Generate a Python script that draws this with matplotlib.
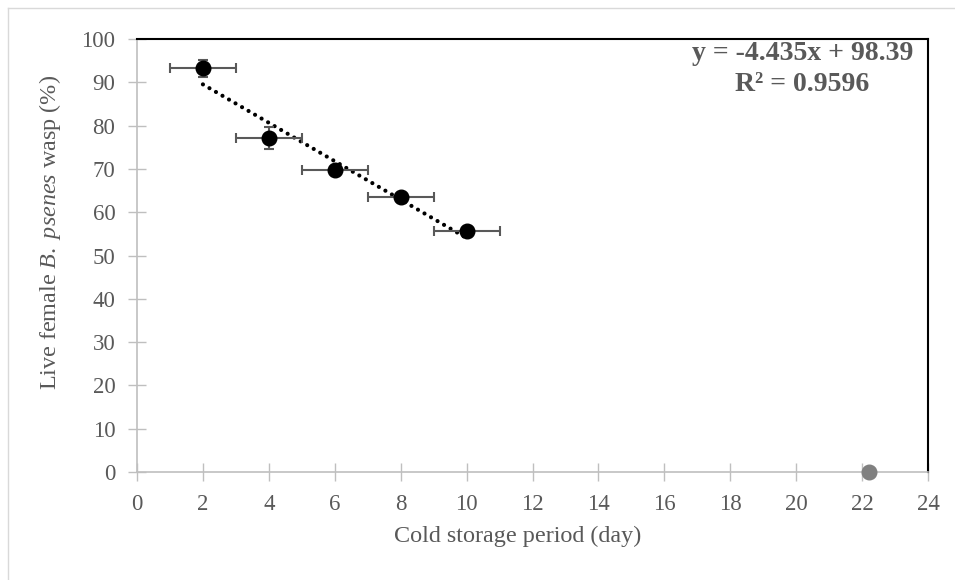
import numpy as np
import matplotlib.pyplot as plt
from matplotlib.lines import Line2D

# data
days = np.array([2, 4, 6, 8, 10])
live = np.array([93.2, 77.1, 69.8, 63.6, 55.6])
live_err = np.array([1.9, 2.6, 0.8, 0.6, 0.6])
days_err = np.array([1, 1, 1, 1, 1])
slope, intercept = -4.435, 98.39
extra_x, extra_y = [22.2], [0]

plt.rcParams['font.family'] = ['Liberation Serif', 'DejaVu Serif']
plt.rcParams['mathtext.fontset'] = 'custom'
plt.rcParams['mathtext.rm'] = 'Liberation Serif'
plt.rcParams['mathtext.it'] = 'Liberation Serif:italic'
grey_txt = '#595959'
grey_ax = '#bfbfbf'

fig = plt.figure(figsize=(9.55, 5.8), dpi=100)
ax = fig.add_axes([137/955, 1 - 472/580, (928-137)/955, (472-39)/580])

# outer chart border (left/top only visible)
fig.add_artist(Line2D([8/955, 8/955], [0, 1 - 8/580], color='#d9d9d9', lw=1))
fig.add_artist(Line2D([8/955, 1], [1 - 8/580, 1 - 8/580], color='#d9d9d9', lw=1))

ax.errorbar(days, live, yerr=live_err, xerr=days_err, fmt='o', color='black',
            ecolor='#595959', elinewidth=1.5, capsize=3.3, capthick=1.5,
            markersize=10.5, zorder=3)
xt = np.array([days.min(), days.max()])
ax.plot(xt, slope * xt + intercept, color='black', ls=(0, (0.01, 1.8)), lw=3,
        dash_capstyle='round', zorder=2)
ax.plot(extra_x, extra_y, 'o', color='#808080', markersize=10.5, clip_on=False, zorder=4)

ax.set_xlim(0, 24)
ax.set_ylim(0, 100)
ax.set_xticks(np.arange(0, 25, 2))
ax.set_yticks(np.arange(0, 101, 10))
ax.tick_params(direction='inout', length=13, width=1, color=grey_ax,
               labelsize=16.5, labelcolor=grey_txt)
ax.tick_params(axis='x', pad=9)
ax.tick_params(axis='y', pad=9)

for s in ['left', 'bottom']:
    ax.spines[s].set_color(grey_ax)
    ax.spines[s].set_linewidth(1.2)
for s in ['top', 'right']:
    ax.spines[s].set_color('black')
    ax.spines[s].set_linewidth(1.5)

ax.set_xlabel('Cold storage period (day)', fontsize=17.4, color=grey_txt)
ax.set_ylabel('Live female $\\it{B.\\ psenes}$ wasp (%)', fontsize=17.4, color=grey_txt)
ax.xaxis.set_label_coords(0.4817, -0.125)
ax.yaxis.set_label_coords(-0.094, 0.554)

ax.text(0.841, 0.931, 'y = -4.435x + 98.39\nR² = 0.9596', transform=ax.transAxes,
        ha='center', va='center', fontsize=20, fontweight='bold', color=grey_txt,
        linespacing=1.3)

fig.savefig('out.png', dpi=100)
